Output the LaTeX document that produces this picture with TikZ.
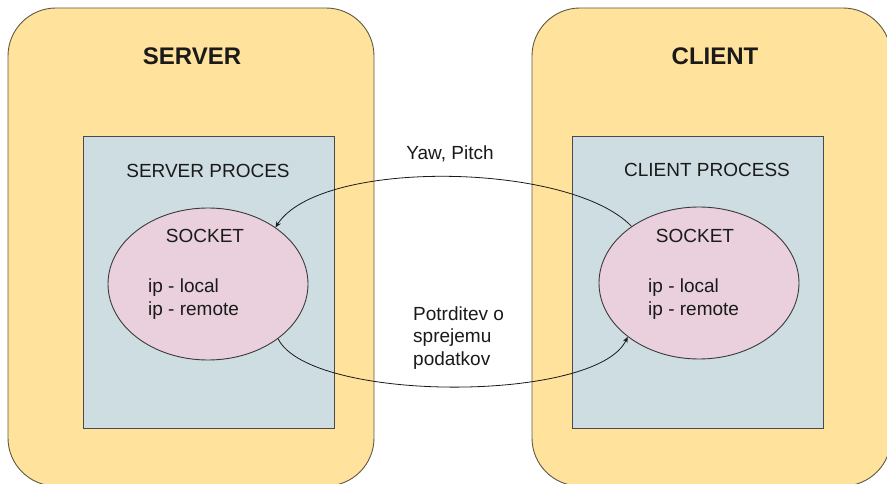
\documentclass[tikz,border=0pt]{standalone}
\usepackage{fontspec}
\setmainfont{Liberation Sans}
\usetikzlibrary{arrows.meta,shapes.geometric}
\definecolor{yel}{HTML}{FFE29B}
\definecolor{yelline}{HTML}{5E5A44}
\definecolor{procfill}{HTML}{CEDDE2}
\definecolor{procline}{HTML}{4A4A4A}
\definecolor{sockfill}{HTML}{E9D0DC}
\definecolor{sockline}{HTML}{3A3A3A}
\definecolor{txt}{HTML}{1A1A1A}
\begin{document}
\begin{tikzpicture}[x=1pt,y=-1pt,
  hostbox/.style={draw=yelline, fill=yel, line width=0.9pt, rounded corners=48pt, inner sep=0pt},
  procbox/.style={draw=procline, fill=procfill, line width=0.9pt, inner sep=0pt, minimum width=251pt, minimum height=292pt},
  sockbox/.style={ellipse, draw=sockline, fill=sockfill, line width=0.9pt, inner sep=0pt, minimum width=200pt, minimum height=152pt},
  titlelbl/.style={anchor=base, inner sep=0pt, text=txt, font=\fontsize{24}{28}\selectfont\bfseries},
  lbl/.style={anchor=base, inner sep=0pt, text=txt, font=\fontsize{19}{23}\selectfont},
  lblw/.style={anchor=base west, inner sep=0pt, text=txt, font=\fontsize{19}{23}\selectfont},
  conn/.style={draw=txt, line width=0.8pt, -{Stealth[length=6pt,width=5pt]}}]
\useasboundingbox (0,0) rectangle (887,484);
\clip (0,0) rectangle (887,484);
\fill[white] (0,0) rectangle (887,484);
% hosts
\node[hostbox, minimum width=366pt, minimum height=478pt] (server) at (191,247) {};
\node[hostbox, minimum width=359pt, minimum height=478pt] (client) at (711.5,247) {};
% processes
\node[procbox] (sproc) at (208.5,282) {};
\node[procbox] (cproc) at (697.5,282) {};
% sockets
\node[sockbox] (ssock) at (208,284) {};
\node[sockbox] (csock) at (699,283) {};
% texts
\node[titlelbl] (stitle) at (192,65) {SERVER};
\node[titlelbl] (ctitle) at (715,65) {CLIENT};
\node[lbl] (sproclbl) at (208,178) {SERVER PROCES};
\node[lbl] (cproclbl) at (707,177) {CLIENT PROCESS};
\node[lbl] (ssocklbl) at (205,243) {SOCKET};
\node[lbl] (csocklbl) at (695,243) {SOCKET};
\node[lblw] (sl1) at (148,292) {ip - local};
\node[lblw] (sl2) at (148,315) {ip - remote};
\node[lblw] (cl1) at (648,292) {ip - local};
\node[lblw] (cl2) at (648,315) {ip - remote};
\node[lbl] (yaw) at (450,160) {Yaw, Pitch};
\node[lblw] (pa) at (413,320) {Potrditev o};
\node[lblw] (pb) at (413,342.5) {sprejemu};
\node[lblw] (pc) at (413,365) {podatkov};
% connectors
\draw[conn] (csock.140) .. controls (570,162) and (320,158) .. (ssock.40);
\draw[conn] (ssock.-38) .. controls (310,403) and (597,403) .. (csock.217);
\end{tikzpicture}
\end{document}
